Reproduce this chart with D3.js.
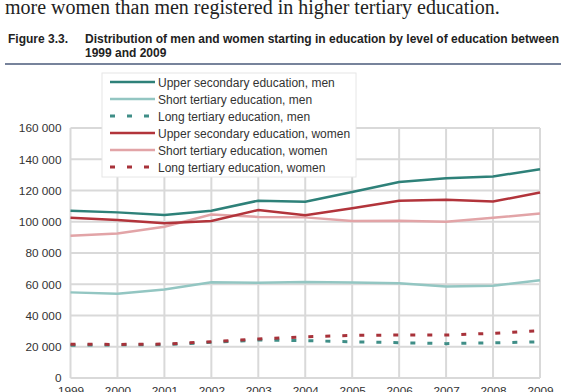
<!DOCTYPE html>
<html>
<head>
<meta charset="utf-8">
<script src="https://cdn.jsdelivr.net/npm/d3@7"></script>
<style>
  body { margin: 0; background: #fff; }
  svg { display: block; }
</style>
</head>
<body>
<div id="content"></div>
<script>
const years = [1999, 2000, 2001, 2002, 2003, 2004, 2005, 2006, 2007, 2008, 2009];
const yTicks = [0, 20000, 40000, 60000, 80000, 100000, 120000, 140000, 160000];

const upperMen   = [107000, 106000, 104300, 107000, 113500, 112800, 119000, 125400, 127800, 129000, 133600];
const shortMen   = [54800, 53900, 56700, 61200, 61000, 61500, 61100, 60600, 58500, 59100, 62600];
const longMen    = [21000, 21200, 21300, 22800, 24300, 23900, 23200, 22600, 22000, 22500, 23200];
const upperWomen = [102600, 101100, 99000, 100500, 107500, 104200, 108600, 113400, 114000, 112900, 118700];
const shortWomen = [91000, 92500, 96800, 104600, 103100, 102800, 100500, 100600, 100000, 102500, 105300];
const longWomen  = [21600, 21500, 21700, 23200, 25000, 26400, 27300, 27500, 27500, 28600, 30300];

const seriesNames = [
  'Upper secondary education, men',
  'Short tertiary education, men',
  'Long tertiary education, men',
  'Upper secondary education, women',
  'Short tertiary education, women',
  'Long tertiary education, women'
];
const seriesValues = [upperMen, shortMen, longMen, upperWomen, shortWomen, longWomen];
const seriesColors = ['#2e8179', '#93c6c2', '#3f8e87', '#b2343b', '#e2a4a7', '#a8323a'];
const seriesDashed = [false, false, true, false, false, true];

const width = 561, height = 392;
const svg = d3.select('#content').append('svg')
  .attr('width', width).attr('height', height);

// header text
svg.append('text')
  .attr('x', 5).attr('y', 13.5)
  .attr('font-family', 'Liberation Serif, Times New Roman, serif')
  .attr('font-size', 20).attr('fill', '#222')
  .text('more women than men registered in higher tertiary education.');

const head = svg.append('g')
  .attr('font-family', 'Liberation Sans, Arial, sans-serif')
  .attr('font-size', 12).attr('font-weight', 'bold').attr('fill', '#222');
head.append('text').attr('x', 8).attr('y', 43).text('Figure 3.3.');
head.append('text').attr('x', 85).attr('y', 43)
  .text('Distribution of men and women starting in education by level of education between');
head.append('text').attr('x', 85).attr('y', 57).text('1999 and 2009');

svg.append('line')
  .attr('x1', 5).attr('x2', 561).attr('y1', 64).attr('y2', 64)
  .attr('stroke', '#4a5a7a').attr('stroke-width', 1.5);

// chart
const x = d3.scaleLinear().domain([1999, 2009]).range([70.5, 540]);
const y = d3.scaleLinear().domain([0, 160000]).range([378, 128]);

const grid = svg.append('g').attr('stroke', '#d9d9d9').attr('stroke-width', 2);
grid.selectAll('line.h').data(yTicks).enter().append('line')
  .attr('class', 'h')
  .attr('x1', x(1999)).attr('x2', x(2009))
  .attr('y1', d => y(d)).attr('y2', d => y(d));
grid.selectAll('line.v').data(years).enter().append('line')
  .attr('class', 'v')
  .attr('x1', d => x(d)).attr('x2', d => x(d))
  .attr('y1', y(160000)).attr('y2', y(0));

const yAxis = d3.axisLeft(y)
  .tickValues(yTicks)
  .tickSize(0)
  .tickPadding(9)
  .tickFormat(d => d3.format(',')(d).replace(/,/g, ' '));
const xAxis = d3.axisBottom(x)
  .tickValues(years)
  .tickSize(0)
  .tickPadding(9)
  .tickFormat(d3.format('d'));

svg.append('g')
  .attr('transform', 'translate(' + x(1999) + ',0)')
  .call(yAxis)
  .call(g => g.select('.domain').remove())
  .selectAll('text')
  .attr('font-family', 'Liberation Sans, Arial, sans-serif')
  .attr('font-size', 11.8).attr('fill', '#333');

svg.append('g')
  .attr('transform', 'translate(0,' + y(0) + ')')
  .call(xAxis)
  .call(g => g.select('.domain').remove())
  .selectAll('text')
  .attr('font-family', 'Liberation Sans, Arial, sans-serif')
  .attr('font-size', 11.8).attr('fill', '#333');

const line = d3.line()
  .x((d, i) => x(years[i]))
  .y(d => y(d));

// draw order: dotted first, then the solid ones
const order = [2, 5, 1, 4, 0, 3];
svg.append('g').selectAll('path')
  .data(order)
  .enter()
  .append('path')
  .attr('d', i => line(seriesValues[i]))
  .attr('fill', 'none')
  .attr('stroke', i => seriesColors[i])
  .attr('stroke-width', i => seriesDashed[i] ? 3 : 2.5)
  .attr('stroke-dasharray', i => seriesDashed[i] ? '5,12' : null);

// legend
const legend = svg.append('g').attr('id', 'legend');
legend.append('rect')
  .attr('x', 102).attr('y', 73).attr('width', 254).attr('height', 104)
  .attr('fill', '#fff').attr('stroke', '#e6e6e6').attr('stroke-width', 1);

const item = legend.selectAll('g.item')
  .data(seriesNames)
  .enter()
  .append('g')
  .attr('class', 'item')
  .attr('transform', (d, i) => 'translate(0,' + (82 + i * 17) + ')');

item.append('line')
  .attr('x1', 110).attr('x2', 155).attr('y1', 0).attr('y2', 0)
  .attr('stroke', (d, i) => seriesColors[i])
  .attr('stroke-width', (d, i) => seriesDashed[i] ? 3 : 2.5)
  .attr('stroke-dasharray', (d, i) => seriesDashed[i] ? '5,12' : null);

item.append('text')
  .attr('x', 158).attr('y', 4.5)
  .attr('font-family', 'Liberation Sans, Arial, sans-serif')
  .attr('font-size', 12).attr('fill', '#333')
  .text(d => d);
</script>
</body>
</html>
